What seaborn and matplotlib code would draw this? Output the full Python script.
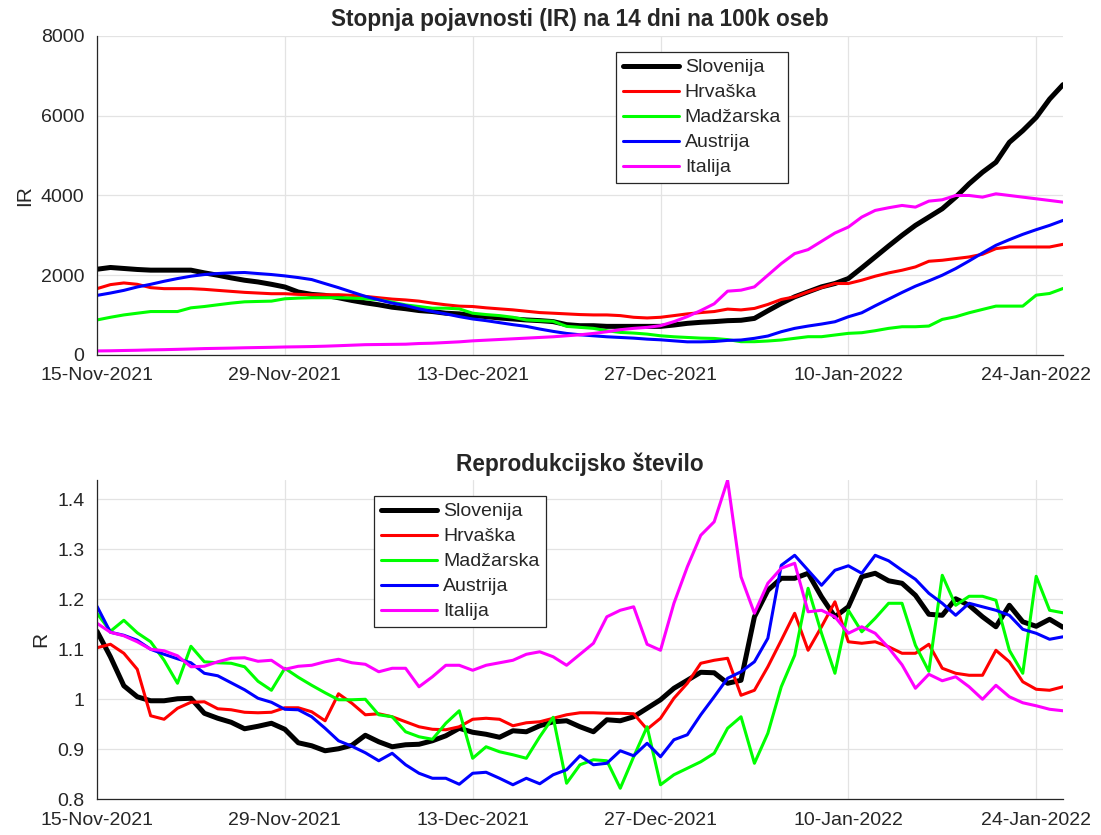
import matplotlib
matplotlib.use("Agg")
import matplotlib.pyplot as plt
import matplotlib.dates as mdates
from matplotlib.ticker import FormatStrFormatter
import numpy as np
import pandas as pd
import seaborn as sns

# ---------------------------------------------------------------------------
# Data, daily 15-Nov-2021 .. 26-Jan-2022
# ---------------------------------------------------------------------------
dates = pd.date_range("2021-11-15", "2022-01-26", freq="D")
countries = ["Slovenija", "Hrvaška", "Madžarska", "Austrija", "Italija"]
colors = ["#000000", "#ff0000", "#00ff00", "#0000ff", "#ff00ff"]
line_widths = [3.6, 2.2, 2.2, 2.2, 2.2]

ir_slovenija = [2150, 2194, 2169, 2144, 2127, 2127, 2127, 2127, 2059, 2000, 1933, 1874,
                1831, 1772, 1705, 1578, 1519, 1494, 1435, 1367, 1308, 1258, 1198, 1160,
                1114, 1089, 1047, 1030, 987, 962, 928, 903, 878, 861, 836, 760,
                734, 734, 717, 717, 717, 717, 717, 751, 793, 819, 836, 860,
                870, 917, 1108, 1292, 1458, 1583, 1708, 1792, 1917, 2183, 2458, 2733,
                3000, 3250, 3458, 3667, 3958, 4292, 4583, 4833, 5333, 5625, 5958, 6417, 6780]
ir_hrvaska = [1663, 1764, 1806, 1772, 1688, 1663, 1663, 1663, 1646, 1620, 1595, 1570,
              1553, 1536, 1536, 1519, 1511, 1511, 1511, 1494, 1469, 1435, 1401, 1380,
              1350, 1300, 1258, 1224, 1215, 1182, 1156, 1131, 1097, 1063, 1047, 1030,
              1013, 1004, 1004, 987, 945, 928, 945, 987, 1030, 1063, 1089, 1150,
              1130, 1167, 1267, 1392, 1458, 1583, 1692, 1792, 1792, 1875, 1975, 2058,
              2125, 2208, 2350, 2375, 2417, 2458, 2525, 2667, 2708, 2708, 2708, 2708, 2775]
ir_madzarska = [878, 945, 1004, 1047, 1089, 1089, 1089, 1182, 1215, 1258, 1300, 1333,
                1342, 1350, 1409, 1426, 1435, 1435, 1435, 1426, 1409, 1384, 1325, 1255,
                1215, 1173, 1173, 1156, 1047, 1013, 987, 945, 878, 861, 844, 717,
                692, 667, 608, 565, 549, 523, 481, 456, 439, 422, 414, 385,
                333, 333, 350, 375, 417, 458, 458, 500, 542, 558, 608, 667,
                708, 708, 725, 892, 958, 1058, 1142, 1225, 1225, 1225, 1500, 1542, 1667]
ir_austrija = [1494, 1553, 1620, 1705, 1772, 1848, 1916, 1975, 2017, 2042, 2059, 2068,
               2042, 2017, 1983, 1941, 1891, 1789, 1688, 1578, 1469, 1384, 1300, 1240,
               1156, 1089, 1030, 962, 903, 861, 810, 760, 717, 650, 591, 540,
               506, 481, 456, 439, 422, 397, 380, 354, 329, 329, 338, 365,
               375, 417, 475, 583, 667, 725, 775, 833, 958, 1058, 1233, 1400,
               1567, 1725, 1858, 2000, 2167, 2358, 2558, 2750, 2892, 3025, 3142, 3250, 3375]
ir_italija = [101, 105, 112, 118, 127, 133, 141, 150, 160, 166, 172, 180,
              186, 192, 200, 205, 211, 220, 232, 245, 258, 262, 266, 270,
              287, 295, 312, 329, 354, 371, 388, 405, 422, 439, 456, 481,
              506, 540, 582, 633, 667, 692, 734, 836, 962, 1114, 1283, 1600,
              1625, 1708, 2000, 2292, 2542, 2642, 2850, 3058, 3208, 3458, 3625, 3692,
              3750, 3708, 3858, 3892, 4000, 4000, 3958, 4042, 4000, 3958, 3917, 3875, 3833]

r_slovenija = [1.136, 1.085, 1.027, 1.005, 0.997, 0.997, 1.001, 1.002, 0.972, 0.962, 0.954,
               0.941, 0.946, 0.952, 0.940, 0.913, 0.907, 0.897, 0.901, 0.908, 0.928,
               0.915, 0.905, 0.909, 0.910, 0.917, 0.927, 0.942, 0.934, 0.930, 0.924,
               0.937, 0.935, 0.947, 0.955, 0.957, 0.945, 0.935, 0.959, 0.957, 0.965, 0.982,
               0.999, 1.022, 1.038, 1.054, 1.053, 1.032, 1.038, 1.165, 1.218, 1.242,
               1.242, 1.252, 1.205, 1.165, 1.185, 1.245, 1.252, 1.237, 1.232, 1.208, 1.170,
               1.168, 1.201, 1.188, 1.165, 1.145, 1.188, 1.155, 1.146, 1.160, 1.144]
r_hrvaska = [1.103, 1.110, 1.092, 1.060, 0.967, 0.960, 0.982, 0.994, 0.995, 0.981, 0.979,
             0.974, 0.973, 0.974, 0.983, 0.983, 0.975, 0.957, 1.011, 0.992, 0.969,
             0.971, 0.965, 0.955, 0.945, 0.940, 0.939, 0.945, 0.960, 0.962, 0.960,
             0.947, 0.953, 0.955, 0.962, 0.969, 0.973, 0.973, 0.972, 0.972, 0.971, 0.940,
             0.962, 1.002, 1.032, 1.072, 1.078, 1.082, 1.008, 1.018, 1.065, 1.118,
             1.172, 1.098, 1.145, 1.195, 1.115, 1.112, 1.115, 1.105, 1.092, 1.092, 1.110,
             1.062, 1.052, 1.048, 1.048, 1.098, 1.075, 1.035, 1.020, 1.018, 1.025]
r_madzarska = [1.172, 1.136, 1.158, 1.133, 1.115, 1.078, 1.032, 1.106, 1.075, 1.073, 1.072,
               1.065, 1.036, 1.018, 1.062, 1.044, 1.028, 1.013, 0.999, 0.999, 1.000,
               0.969, 0.965, 0.935, 0.925, 0.920, 0.952, 0.977, 0.882, 0.905, 0.895,
               0.889, 0.882, 0.925, 0.964, 0.832, 0.869, 0.879, 0.877, 0.822, 0.885, 0.945,
               0.829, 0.849, 0.862, 0.875, 0.892, 0.942, 0.965, 0.872, 0.932, 1.025,
               1.088, 1.222, 1.132, 1.052, 1.178, 1.135, 1.162, 1.192, 1.192, 1.108, 1.056,
               1.248, 1.188, 1.206, 1.206, 1.198, 1.098, 1.052, 1.246, 1.178, 1.173]
r_austrija = [1.186, 1.134, 1.128, 1.118, 1.100, 1.090, 1.081, 1.073, 1.052, 1.047, 1.033,
              1.019, 1.002, 0.994, 0.980, 0.979, 0.965, 0.942, 0.917, 0.906, 0.893,
              0.877, 0.892, 0.869, 0.852, 0.842, 0.842, 0.830, 0.852, 0.854, 0.842,
              0.829, 0.842, 0.831, 0.849, 0.859, 0.887, 0.869, 0.872, 0.897, 0.887, 0.912,
              0.885, 0.919, 0.929, 0.969, 1.005, 1.042, 1.055, 1.075, 1.122, 1.268,
              1.288, 1.258, 1.228, 1.258, 1.267, 1.252, 1.288, 1.277, 1.258, 1.240, 1.212,
              1.192, 1.168, 1.192, 1.185, 1.178, 1.168, 1.140, 1.132, 1.120, 1.125]
r_italija = [1.152, 1.134, 1.127, 1.115, 1.100, 1.097, 1.087, 1.065, 1.066, 1.075, 1.082,
             1.083, 1.076, 1.078, 1.060, 1.066, 1.068, 1.075, 1.080, 1.073, 1.070,
             1.055, 1.062, 1.062, 1.025, 1.045, 1.068, 1.068, 1.058, 1.068, 1.073,
             1.078, 1.090, 1.095, 1.085, 1.068, 1.090, 1.112, 1.165, 1.178, 1.185, 1.110,
             1.098, 1.192, 1.265, 1.328, 1.355, 1.438, 1.245, 1.172, 1.232, 1.262,
             1.272, 1.175, 1.178, 1.165, 1.132, 1.145, 1.132, 1.103, 1.069, 1.022, 1.050,
             1.037, 1.045, 1.025, 1.000, 1.028, 1.005, 0.993, 0.987, 0.980, 0.977]

ir_series = [ir_slovenija, ir_hrvaska, ir_madzarska, ir_austrija, ir_italija]
r_series = [r_slovenija, r_hrvaska, r_madzarska, r_austrija, r_italija]

xtick_dates = pd.to_datetime(["2021-11-15", "2021-11-29", "2021-12-13",
                              "2021-12-27", "2022-01-10", "2022-01-24"])

# ---------------------------------------------------------------------------
# Style
# ---------------------------------------------------------------------------
sns.set_style("white")
plt.rcParams["font.family"] = ["Liberation Sans", "DejaVu Sans"]
AX_COLOR = "#262626"
FS = 14


def style_axes(ax, ylim, yticks, yfmt, ylabel, title):
    ax.set_xlim(dates[0], dates[-1])
    ax.set_ylim(*ylim)
    ax.set_yticks(yticks)
    ax.yaxis.set_major_formatter(FormatStrFormatter(yfmt))
    ax.set_xticks(xtick_dates)
    ax.xaxis.set_major_formatter(mdates.DateFormatter("%d-%b-%Y"))
    ax.set_xlabel("")
    ax.set_ylabel(ylabel, fontsize=15, color=AX_COLOR, labelpad=5)
    ax.set_title(title, fontsize=16.3, fontweight="bold", pad=7)
    ax.grid(True, color="#e3e3e3", linewidth=0.9)
    ax.set_axisbelow(True)
    for side in ["top", "right"]:
        ax.spines[side].set_visible(False)
    for side in ["left", "bottom"]:
        ax.spines[side].set_color(AX_COLOR)
        ax.spines[side].set_linewidth(0.9)
    ax.tick_params(axis="x", direction="in", length=7, width=0.8, color=AX_COLOR,
                   labelsize=FS, labelcolor=AX_COLOR, pad=9)
    ax.tick_params(axis="y", direction="in", length=5, width=0.8, color=AX_COLOR,
                   labelsize=FS, labelcolor=AX_COLOR, pad=9)


def draw_panel(ax, series, legend_anchor):
    for name, vals, c, lw in zip(countries, series, colors, line_widths):
        sns.lineplot(x=dates, y=vals, ax=ax, color=c, linewidth=lw, label=name)
    leg = ax.legend(loc="upper left", bbox_to_anchor=legend_anchor, fontsize=FS,
                    frameon=True, fancybox=False, framealpha=1, edgecolor=AX_COLOR,
                    handlelength=2.9, handletextpad=0.3, labelspacing=0.38,
                    borderpad=0.35, borderaxespad=0)
    leg.get_frame().set_linewidth(0.9)


fig = plt.figure(figsize=(11.01, 8.35), dpi=100)
ax_top = fig.add_axes([0.0881, 0.5749, 0.8774, 0.3820])
ax_bot = fig.add_axes([0.0881, 0.0428, 0.8774, 0.3820])

draw_panel(ax_top, ir_series, (0.537, 0.95))
style_axes(ax_top, (0, 8000), [0, 2000, 4000, 6000, 8000], "%g", "IR",
           "Stopnja pojavnosti (IR) na 14 dni na 100k oseb")

draw_panel(ax_bot, r_series, (0.287, 0.951))
style_axes(ax_bot, (0.8, 1.438), [0.8, 0.9, 1.0, 1.1, 1.2, 1.3, 1.4], "%g", "R",
           "Reprodukcijsko število")

fig.savefig("out.png", dpi=100)
plt.close(fig)
